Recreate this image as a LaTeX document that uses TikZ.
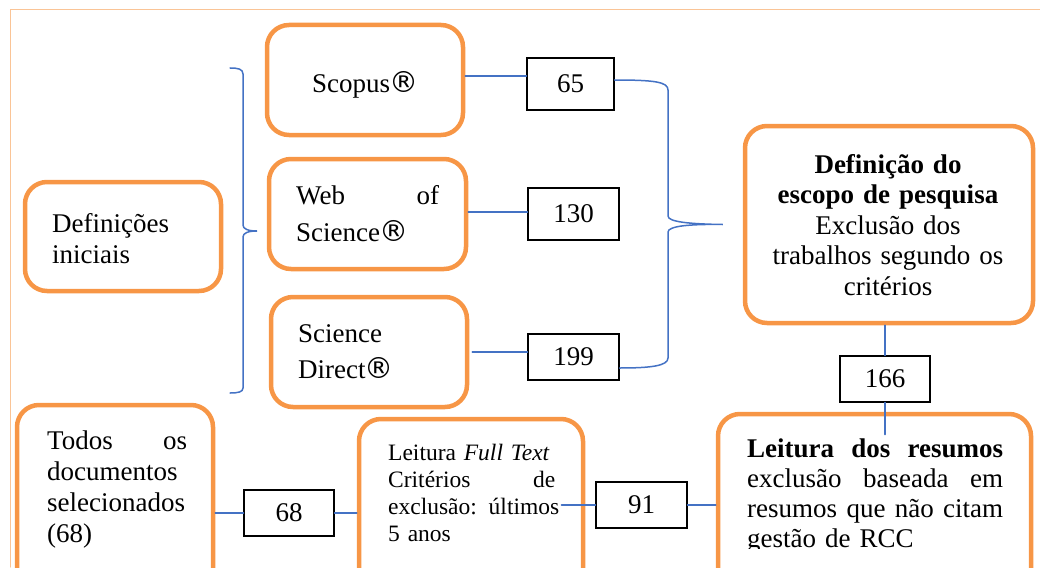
\documentclass[tikz,border=0pt]{standalone}
\usepackage{fontspec}
\setmainfont{Liberation Serif}
\newfontfamily\simbolo{DejaVu Sans}
\usepackage{tikz}
\usetikzlibrary{calc}

\definecolor{laranja}{RGB}{247,150,70}
\definecolor{azul}{RGB}{68,114,196}
\definecolor{moldura}{RGB}{250,196,150}

\newcommand{\marca}{{\simbolo\fontsize{29}{29}\selectfont\kern-1pt ®}}

\tikzset{
  caixa/.style={draw=laranja, line width=4.5pt, rounded corners=22pt, inner sep=0pt},
  numero/.style={draw=black, line width=1.1pt, minimum height=46pt, inner sep=0pt,
    font=\fontsize{27}{31}\selectfont},
  liga/.style={draw=azul, line width=1.5pt},
  texto/.style={inner sep=0pt, anchor=base west, align=left}
}

\begin{document}
\begin{tikzpicture}[x=1pt, y=-1pt, line cap=round]

  \useasboundingbox (0,0) rectangle (1040,567);
  \clip (0,0) rectangle (1040,567);

  \draw [moldura, line width=1pt] (10,567) -- (10,10) -- (1040,10);

  % caixas laranja
  \node [caixa, minimum width=196pt, minimum height=110pt] (scopus) at (365,80) {};
  \node [caixa, minimum width=197pt, minimum height=110pt] (wos) at (367.5,214) {};
  \node [caixa, minimum width=196pt, minimum height=109pt] (defini) at (123,236.5) {};
  \node [caixa, minimum width=196pt, minimum height=110pt] (sdirect) at (369,352) {};
  \node [caixa, minimum width=288pt, minimum height=197pt] (escopo) at (889,224.5) {};
  \node [caixa, minimum width=196pt, minimum height=200pt] (todos) at (115,505) {};
  \node [caixa, minimum width=224pt, minimum height=200pt] (fulltext) at (471,519) {};
  \node [caixa, minimum width=313pt, minimum height=200pt] (resumos) at (874.5,514) {};

  % textos
  \node [texto, anchor=base, font=\fontsize{27}{31}\selectfont] (tscopus) at (365,93) {Scopus\marca};
  \node [texto, text width=143pt, font=\fontsize{27}{37}\selectfont] (twos) at (296,204)
    {Web\hfill of\\Science\marca};
  \node [texto, text width=160pt, font=\fontsize{27}{31.5}\selectfont] (tdefini) at (52,232)
    {Definições\\iniciais};
  \node [texto, text width=160pt, font=\fontsize{27}{36}\selectfont] (tsdirect) at (298,342)
    {Science\\Direct\marca};
  \node [texto, anchor=base, text width=270pt, align=center, font=\fontsize{27}{30.5}\selectfont]
    (tescopo) at (888,173)
    {\textbf{Definição do}\\\textbf{escopo de pesquisa}\\Exclusão dos\\trabalhos segundo os\\critérios};
  \node [texto, text width=140pt, font=\fontsize{27}{31.3}\selectfont] (ttodos) at (47,449)
    {Todos\hfill os\\documentos\\selecionados\\(68)};
  \node [texto, text width=167pt, font=\fontsize{23.5}{27.3}\selectfont] (tfull) at (388,460)
    {Leitura \textit{Full Text}\\Critérios\hfill de\\\mbox{exclusão: últimos}\\5 anos};
  \begin{scope}
    \clip (700,400) rectangle (1040,548);
    \node [texto, text width=256pt, font=\fontsize{27}{30}\selectfont] (tresumos) at (747,457)
      {\textbf{Leitura\hfill dos\hfill resumos}\\exclusão\hfill baseada\hfill em\\%
       resumos\hfill que\hfill não\hfill citam\\gestão de RCC};
  \end{scope}

  % quantidades
  \node [numero, minimum width=87pt, minimum height=52pt] (n65) at (570.5,84) {65};
  \node [numero, minimum width=91pt, minimum height=52pt] (n130) at (573.5,214) {130};
  \node [numero, minimum width=91pt] (n199) at (573.5,357) {199};
  \node [numero, minimum width=90pt] (n166) at (885,379) {166};
  \node [numero, minimum width=90pt] (n68) at (289,513) {68};
  \node [numero, minimum width=91pt] (n91) at (641.5,505) {91};

  \coordinate (ponta) at ([xshift=-20pt]escopo.west);

  % ligacoes
  \draw [liga] ([yshift=4pt]scopus.east) -- ([yshift=8pt]n65.west);
  \draw [liga] ([yshift=2pt]wos.east) -- ([yshift=2pt]n130.west);
  \draw [liga] ([xshift=3pt]sdirect.east) -- ([yshift=5pt]n199.west);

  \draw [liga] (230,68) .. controls (238,68) and (243,69) .. (243,74) -- (243,225)
    .. controls (243,229) and (248,231) .. (257,231)
    .. controls (248,231) and (243,233) .. (243,237) -- (243,388)
    .. controls (243,392) and (238,393) .. (230,393);

  \draw [liga] ([yshift=4pt]n65.east) .. controls (655,80) and (668,82) .. (668,90) -- (668,216)
    .. controls (668,222) and (690,224) .. (ponta)
    .. controls (690,224) and (668,226) .. (668,232) -- (668,358)
    .. controls (668,366) and (650,368) .. ([yshift=-11pt]n199.east);

  \draw [liga] (n166.north) -- (n166.north |- escopo.south);
  \draw [liga] (n166.south) -- ++(0,32);
  \draw [liga] (n91.east) -- (n91.east -| resumos.west);
  \draw [liga] (n91.west) -- ++(-34,0);
  \draw [liga] (n68.west) -- (n68.west -| todos.east);
  \draw [liga] (n68.east) -- (n68.east -| fulltext.west);

\end{tikzpicture}
\end{document}
